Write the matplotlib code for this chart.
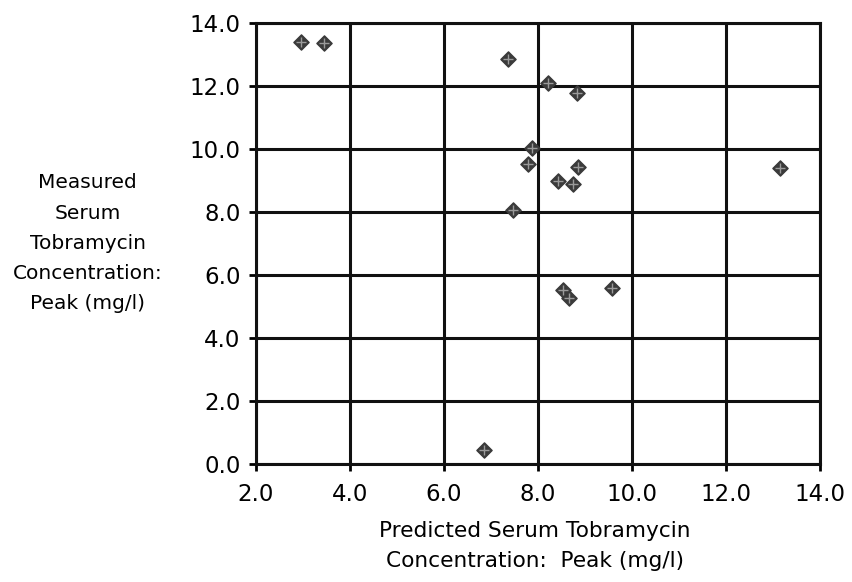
# imports
import matplotlib.pyplot as plt
import numpy as np

# set plotting params
plt.rcParams['font.family'] = 'DejaVu Sans'
plt.rcParams['font.size'] = 14
plt.rcParams['xtick.labelsize'] = 16.5
plt.rcParams['ytick.labelsize'] = 16.5

# data
predicted_peak = [2.95, 3.45, 7.36, 8.21, 8.83, 7.87, 7.79, 8.85, 8.43, 8.74,
                  7.47, 13.15, 8.53, 8.66, 9.57, 6.85]
measured_peak = [13.41, 13.37, 12.86, 12.10, 11.78, 10.03, 9.52, 9.43, 8.98, 8.89,
                 8.06, 9.40, 5.52, 5.27, 5.59, 0.44]
x_ticks = [2.0, 4.0, 6.0, 8.0, 10.0, 12.0, 14.0]
y_ticks = [0.0, 2.0, 4.0, 6.0, 8.0, 10.0, 12.0, 14.0]

fig = plt.figure(figsize=(8.52, 5.82), dpi=100)
ax = fig.add_axes([0.3005, 0.2027, 0.6619, 0.7578])

ax.set_xlim(2, 14)
ax.set_ylim(0, 14)
ax.set_xticks(x_ticks)
ax.set_yticks(y_ticks)
ax.set_xticklabels([f'{t:.1f}' for t in x_ticks])
ax.set_yticklabels([f'{t:.1f}' for t in y_ticks])

ax.grid(True, color='#111111', linewidth=2.2)
ax.set_axisbelow(True)
for s in ax.spines.values():
    s.set_linewidth(2.2)
    s.set_color('#111111')
ax.tick_params(axis='x', direction='out', length=5, width=2, pad=9)
ax.tick_params(axis='y', direction='out', length=5, width=2, pad=6)

# diamond markers with a light cross, like the original plot symbols
ax.scatter(predicted_peak, measured_peak, marker='D', s=60, color='#3a3a3a',
           zorder=3, clip_on=False)
ax.scatter(predicted_peak, measured_peak, marker='+', s=55, color='#9a9a9a',
           linewidths=1.0, zorder=4, clip_on=False)

fig.text(0.103, 0.582, 'Measured\nSerum\nTobramycin\nConcentration:\nPeak (mg/l)',
         ha='center', va='center', multialignment='center', linespacing=1.75,
         fontsize=14.5)
fig.text(0.628, 0.062, 'Predicted Serum Tobramycin\nConcentration:  Peak (mg/l)',
         ha='center', va='center', multialignment='center', linespacing=1.6,
         fontsize=15.6)

plt.savefig('out.png', dpi=100)
